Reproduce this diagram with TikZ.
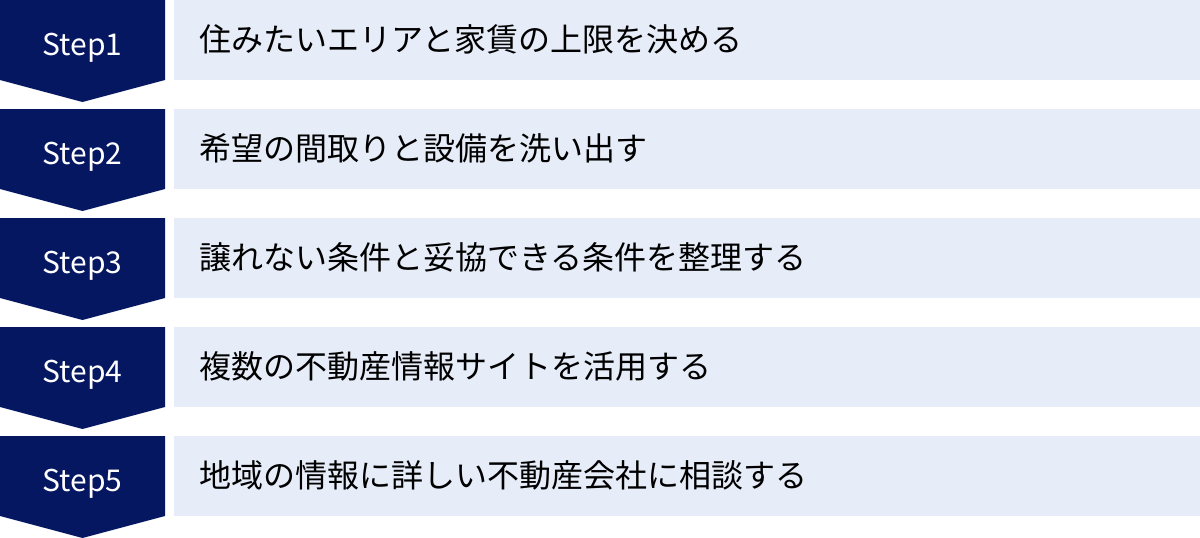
\documentclass[tikz,border=0pt]{standalone}
\usepackage{fontspec}
\newfontfamily\jp{Noto Sans CJK JP}
\definecolor{navy}{HTML}{061762}
\definecolor{pale}{HTML}{E6ECF8}
\begin{document}
\begin{tikzpicture}[x=1pt,y=-1pt,
  stepshape/.style={fill=navy,draw=none},
  rowbox/.style={fill=pale,draw=none},
  steplabel/.style={text=white,font=\jp\fontsize{30}{34}\selectfont,inner sep=0pt,anchor=base},
  rowtext/.style={text=black,font=\jp\fontsize{32}{38}\selectfont,inner sep=0pt,anchor=base west}]
\useasboundingbox (0,0) rectangle (1200,538);
\foreach \i/\t in {0/住みたいエリアと家賃の上限を決める,1/希望の間取りと設備を洗い出す,2/譲れない条件と妥協できる条件を整理する,3/複数の不動産情報サイトを活用する,4/地域の情報に詳しい不動産会社に相談する}{
  \pgfmathsetmacro{\y}{109*\i}
  \pgfmathtruncatemacro{\n}{\i+1}
  \fill[stepshape] (0,\y) -- (165,\y) -- (165,\y+80) -- (82.5,\y+102) -- (0,\y+80) -- cycle;
  \node[steplabel] (s\n) at (82.5,\y+55) {Step\n};
  \fill[rowbox] (174,\y) rectangle (1200,\y+80);
  \node[rowtext] (t\n) at (199,\y+51) {\t};
}
\end{tikzpicture}
\end{document}
